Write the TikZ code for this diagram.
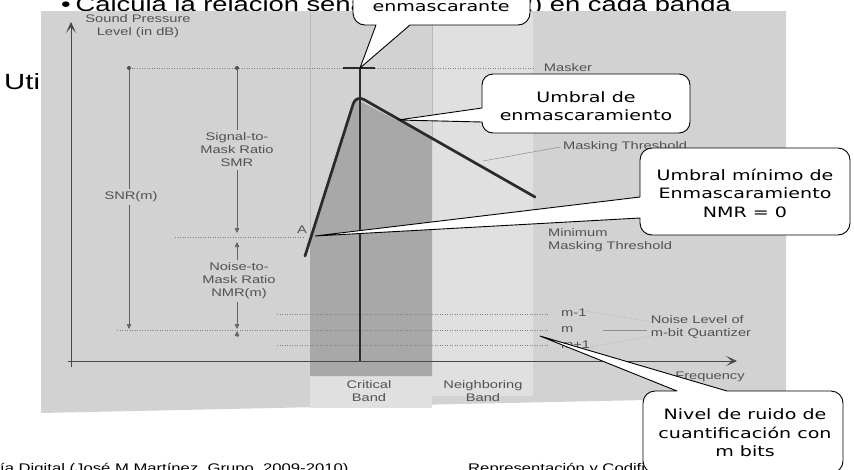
\documentclass[tikz,border=0pt]{standalone}
\usepackage{fontspec}
\setmainfont{Liberation Sans}
\newfontfamily\slidefont[FakeStretch=1.333]{Liberation Sans}
\newfontfamily\callfont[FakeStretch=1.333]{DejaVu Sans}
\usetikzlibrary{arrows.meta}
\definecolor{paper}{HTML}{D2D2D2}
\definecolor{critband}{HTML}{A8A8A8}
\definecolor{nbband}{HTML}{E0E0E0}
\definecolor{ink}{HTML}{2A2A2A}
\begin{document}
\begin{tikzpicture}[x=1pt,y=-1pt,
  slide/.style={font=\slidefont\fontsize{22}{26}\selectfont, inner sep=0pt},
  subslide/.style={font=\slidefont\fontsize{20.5}{24}\selectfont, inner sep=0pt},
  foot/.style={font=\slidefont\fontsize{12.5}{15}\selectfont, inner sep=0pt},
  fig/.style={font=\slidefont\fontsize{11}{13}\selectfont, text=black!68, align=center, inner sep=2.5pt},
  calltext/.style={font=\callfont\fontsize{14.3}{18.5}\selectfont, align=center, inner sep=0pt},
  callout/.style={draw=black, line width=0.9pt, fill=white, line join=round},
  guide/.style={draw=black!62, line width=0.6pt},
  leader/.style={draw=black!45, line width=0.5pt},
  dotguide/.style={draw=black!50, line width=0.5pt, dash pattern=on 1pt off 1.5pt},
  tip/.style={-{Triangle[length=5pt,width=4.5pt]}},
  axis/.style={draw=black!72, line width=0.8pt, -{Stealth[length=11pt,width=10pt,inset=6pt]}},
]
\useasboundingbox (0,0) rectangle (854,469);
\clip (0,0) rectangle (854,469);
\fill[white] (0,0) rectangle (854,469);

% slide text lying behind the figure
\node[slide, anchor=base west] (uti) at (4,89) {Utiliza};
\node[subslide, anchor=base west] (bullet) at (61,11) {\textbullet\hspace{5pt}Calcula la relación señal};
\node[subslide, anchor=base east] (bulletend) at (731,11) {(SMR) en cada banda};
\node[foot, anchor=base west] (footleft) at (0,472) {ía Digital (José M Martínez, Grupo, 2009-2010)};
\node[foot, anchor=base west] (footright) at (468,472) {Representación y Codificación};

% scanned figure
\fill[paper] (41,11) -- (786,11) -- (786,397) -- (41,413) -- cycle;
\fill[nbband] (432,13) rectangle (533,396);
\fill[nbband] (310,376) rectangle (432,408);
\fill[critband] (310,376) -- (310,240) -- (356,99) -- (432,139) -- (432,376) -- cycle;
\draw[black!28, line width=0.4pt] (310,13) -- (310,240) (432,13) -- (432,139);

% level lines
\draw[dotguide] (129,68) -- (343,68) (375,68) -- (535,68);
\draw[dotguide] (175,237) -- (303,237);
\draw[dotguide] (277,314) -- (548,314);
\draw[dotguide] (117,330) -- (548,330);
\draw[dotguide] (277,345) -- (548,345);

% axes
\draw[axis] (71,367) -- (71,22);
\draw[axis] (68,361) -- (737,361);
\node[fig, align=center] (spl) at (138,26) {Sound Pressure\\Level (in dB)};
\node[fig] (freq) at (710,377) {Frequency};

% masker and masking curve
\coordinate (maskertop) at (360,68);
\draw[ink, line width=2.4pt] (maskertop) -- (360,361);
\draw[ink, line width=2pt] (343,68) -- (375,68);
\draw[ink, line width=2.7pt, rounded corners=9pt, line cap=round] (305,256) -- (356,95) -- (535,197);
\coordinate (curvepeak) at (398,120);
\coordinate (pointA) at (315,236);
\coordinate (noiselevel) at (540,336);

% SNR and SMR / NMR measures
\coordinate (snrtop) at (129,68);
\coordinate (smrtop) at (237,68);
\fill[black!70] (snrtop) circle (2pt) (smrtop) circle (2pt);
\node[fig] (snr) at (131,197) {SNR(m)};
\node[fig] (smr) at (237,150) {Signal-to-\\Mask Ratio\\SMR};
\node[fig] (nmr) at (239,281) {Noise-to-\\Mask Ratio\\NMR(m)};
\coordinate (snrend) at (129,329);
\coordinate (smrend) at (237,233);
\coordinate (nmrtop) at (237,242);
\coordinate (nmrend) at (237,329);
\coordinate (nmrstub) at (237,337);
\draw[guide] (snrtop) -- (snr.north -| snrtop);
\draw[guide, tip] (snr.south -| snrtop) -- (snrend);
\draw[guide] (smrtop) -- (smr.north -| smrtop);
\draw[guide, tip] (smr.south -| smrtop) -- (smrend);
\draw[guide, tip] (nmr.north -| smrtop) -- (nmrtop);
\draw[guide, tip] (nmr.south -| smrtop) -- (nmrend);
\draw[guide, tip] (nmrstub) -- (237,331);

% figure labels
\node[fig] (masker) at (568,68) {Masker};
\node[fig] (mthr) at (625,147) {Masking Threshold};
\draw[leader] (483,161) -- (mthr.west);
\node[fig] (alabel) at (302,230) {A};
\node[fig, align=left] (minthr) at (610,240) {Minimum\\Masking Threshold};
\node[fig, anchor=west, inner sep=0pt] (mminus) at (561,313) {m-1};
\node[fig, anchor=west, inner sep=0pt] (mzero) at (561,330) {m};
\node[fig, anchor=west, inner sep=0pt] (mplus) at (561,345) {m+1};
\node[fig, align=left] (noise) at (701,327) {Noise Level of\\m-bit Quantizer};
\draw[leader] (603,330) -- (647,330);
\draw[leader, dotted] (587,311) -- (651,322) (590,347) -- (651,336);
\node[fig] (crit) at (369,391) {Critical\\Band};
\node[fig] (neigh) at (483,391) {Neighboring\\Band};

% callouts
\draw[callout] (376,25) -- (maskertop) -- (410,25) [rounded corners=12pt] -- (530,25) -- (530,-30) -- (353,-30) -- (353,25) [sharp corners] -- cycle;
\node[calltext, anchor=base] (c1) at (441,11) {enmascarante};

\draw[callout] (482,108) -- (curvepeak) -- (482,122) [rounded corners=11pt] -- (482,133) -- (690,133) -- (690,74) -- (482,74) [sharp corners] -- cycle;
\node[calltext] (c2) at (586,106) {Umbral de\\enmascaramiento};

\draw[callout] (640,197) -- (pointA) -- (640,218) [rounded corners=12pt] -- (640,235) -- (850,235) -- (850,148) -- (640,148) [sharp corners] -- cycle;
\node[calltext] (c3) at (745,193) {Umbral mínimo de\\Enmascaramiento\\NMR = 0};

\draw[callout] (677,391) -- (noiselevel) -- (727,391) [rounded corners=12pt] -- (843,391) -- (843,473) -- (643,473) -- (643,391) [sharp corners] -- cycle;
\node[calltext] (c4) at (745,433) {Nivel de ruido de\\cuantificación con\\m bits};
\end{tikzpicture}
\end{document}
